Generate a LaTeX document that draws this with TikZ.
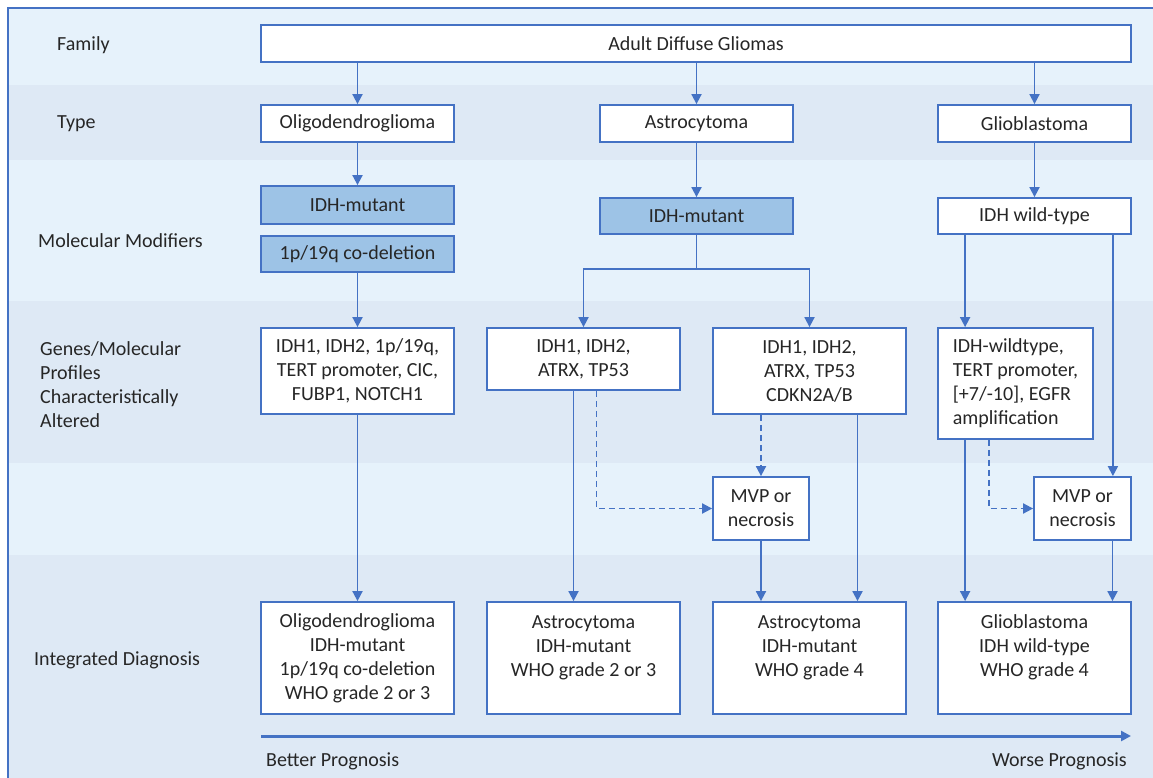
\documentclass[tikz,border=0pt]{standalone}
\usepackage{fontspec}
\setmainfont{Carlito}
\usepackage{tikz}
\usetikzlibrary{arrows.meta, positioning}
\definecolor{frameblue}{HTML}{4472C4}
\definecolor{modfill}{HTML}{9DC3E6}
\definecolor{bandlight}{HTML}{E6F2FB}
\definecolor{banddark}{HTML}{DEE9F5}
\definecolor{txt}{HTML}{262626}
\tikzset{
    box/.style={rectangle, draw=frameblue, fill=white, line width=1.8pt, inner sep=0pt, minimum height=37pt, minimum width=193pt, align=center, text=txt},
    modbox/.style={box, fill=modfill},
    rowlabel/.style={anchor=west, align=left, text=txt, inner sep=0pt},
    arrow/.style={-{Triangle[length=10pt, width=10pt]}, line width=1.8pt, draw=frameblue},
    dasharrow/.style={arrow, dash pattern=on 6pt off 4pt},
}

\begin{document}
\begin{tikzpicture}[x=1pt, y=-1pt, font=\fontsize{20}{24}\selectfont]
        \useasboundingbox (0,0) rectangle (1153,778);
        % Bands
        \fill[bandlight] (8,8) rectangle (1153,85);
        \fill[banddark] (8,85) rectangle (1153,160);
        \fill[bandlight] (8,160) rectangle (1153,301);
        \fill[banddark] (8,301) rectangle (1153,463);
        \fill[bandlight] (8,463) rectangle (1153,555);
        \fill[banddark] (8,555) rectangle (1153,778);
        \draw[frameblue, line width=2pt] (8,778) -- (8,8) -- (1153,8);

        % Row labels
        \node[rowlabel] (lfam) at (57,45) {Family};
        \node[rowlabel] (ltype) at (57,124) {Type};
        \node[rowlabel] (lmod) at (38,241) {Molecular Modifiers};
        \node[rowlabel] (lgen) at (40,385) {Genes/Molecular\\Profiles\\Characteristically\\Altered};
        \node[rowlabel] (lint) at (34,660) {Integrated Diagnosis};

        % Nodes
        \node[box, minimum width=870pt] (fam) at (696,43.5) {Adult Diffuse Gliomas};
        \node[box] (oli) at (357.5,123.5) {Oligodendroglioma};
        \node[box] (ast) at (696.5,123.5) {Astrocytoma};
        \node[box] (gbm) at (1034.5,123.5) {Glioblastoma};

        \node[modbox, minimum height=38pt] (oidh) at (357.5,205) {IDH-mutant};
        \node[modbox, minimum height=36pt, below=10pt of oidh] (ocod) {1p/19q co-deletion};
        \node[modbox, minimum height=36pt] (aidh) at (696.5,216) {IDH-mutant};
        \node[box, minimum height=36pt] (gwt) at (1034.5,216) {IDH wild-type};

        \node[box, minimum height=86pt] (ogen) at (357.5,371) {IDH1, IDH2, 1p/19q,\\TERT promoter, CIC,\\FUBP1, NOTCH1};
        \node[box, minimum height=62pt] (ast1) at (583.5,359) {IDH1, IDH2,\\ATRX, TP53};
        \node[box, minimum height=86pt] (ast2) at (809.5,371) {IDH1, IDH2,\\ATRX, TP53\\CDKN2A/B};
        \node[box, minimum height=111pt, minimum width=155pt, align=left] (ggen) at (1015.5,383.5) {IDH-wildtype,\\TERT promoter,\\{[+7/-10]}, EGFR\\amplification};

        \node[box, minimum height=63pt, minimum width=96pt] (amvp) at (761,508.5) {MVP or\\necrosis};
        \node[box, minimum height=63pt, minimum width=97pt] (gmvp) at (1082.5,508.5) {MVP or\\necrosis};

        \node[box, minimum height=112pt] (ofin) at (357.5,658) {Oligodendroglioma\\IDH-mutant\\1p/19q co-deletion\\WHO grade 2 or 3};
        \node[box, minimum height=112pt] (afin1) at (583.5,658) {Astrocytoma\\IDH-mutant\\WHO grade 2 or 3\\~};
        \node[box, minimum height=112pt] (afin2) at (809.5,658) {Astrocytoma\\IDH-mutant\\WHO grade 4\\~};
        \node[box, minimum height=112pt] (gfin) at (1034.5,658) {Glioblastoma\\IDH wild-type\\WHO grade 4\\~};

        \coordinate (pstart) at (261,736);
        \coordinate (pend) at (1131,736);
        \node[rowlabel] (better) at (266,761) {Better Prognosis};
        \node[rowlabel, anchor=east] (worse) at (1127,761) {Worse Prognosis};

        % Connections
        \draw[arrow] (fam.south -| oli.north) -- (oli.north);
        \draw[arrow] (fam.south -| ast.north) -- (ast.north);
        \draw[arrow] (fam.south -| gbm.north) -- (gbm.north);

        \draw[arrow] (oli) -- (oidh);
        \draw[arrow] (ast) -- (aidh);
        \draw[arrow] (gbm) -- (gwt);

        \draw[arrow] (ocod) -- (ogen);
        \draw[arrow] (aidh.south) -- ++(0,34) -| (ast1.north);
        \draw[arrow] (aidh.south) -- ++(0,34) -| (ast2.north);
        \draw[arrow] ([xshift=28pt]gwt.south west) -- ([xshift=28pt]ggen.north west);
        \draw[arrow] ([xshift=-19pt]gwt.south east) -- ([xshift=-19pt]gwt.south east |- gmvp.north);

        \draw[arrow] (ogen) -- (ofin);
        \draw[arrow] ([xshift=-10pt]ast1.south) -- ([xshift=-10pt]afin1.north);
        \draw[dasharrow] ([xshift=13pt]ast1.south) |- (amvp.west);
        \draw[dasharrow] (ast2.south -| amvp.north) -- (amvp.north);
        \draw[arrow] ([xshift=48pt]ast2.south) -- ([xshift=48pt]afin2.north);
        \draw[arrow] (amvp.south) -- (amvp.south |- afin2.north);
        \draw[arrow] ([xshift=28pt]ggen.south west) -- ([xshift=28pt]gfin.north west);
        \draw[dasharrow] ([xshift=52pt]ggen.south west) |- (gmvp.west);
        \draw[arrow] ([xshift=30pt]gmvp.south) -- ([xshift=30pt]gmvp.south |- gfin.north);

        \draw[arrow, line width=3pt] (pstart) -- (pend);
    \end{tikzpicture}
\end{document}
